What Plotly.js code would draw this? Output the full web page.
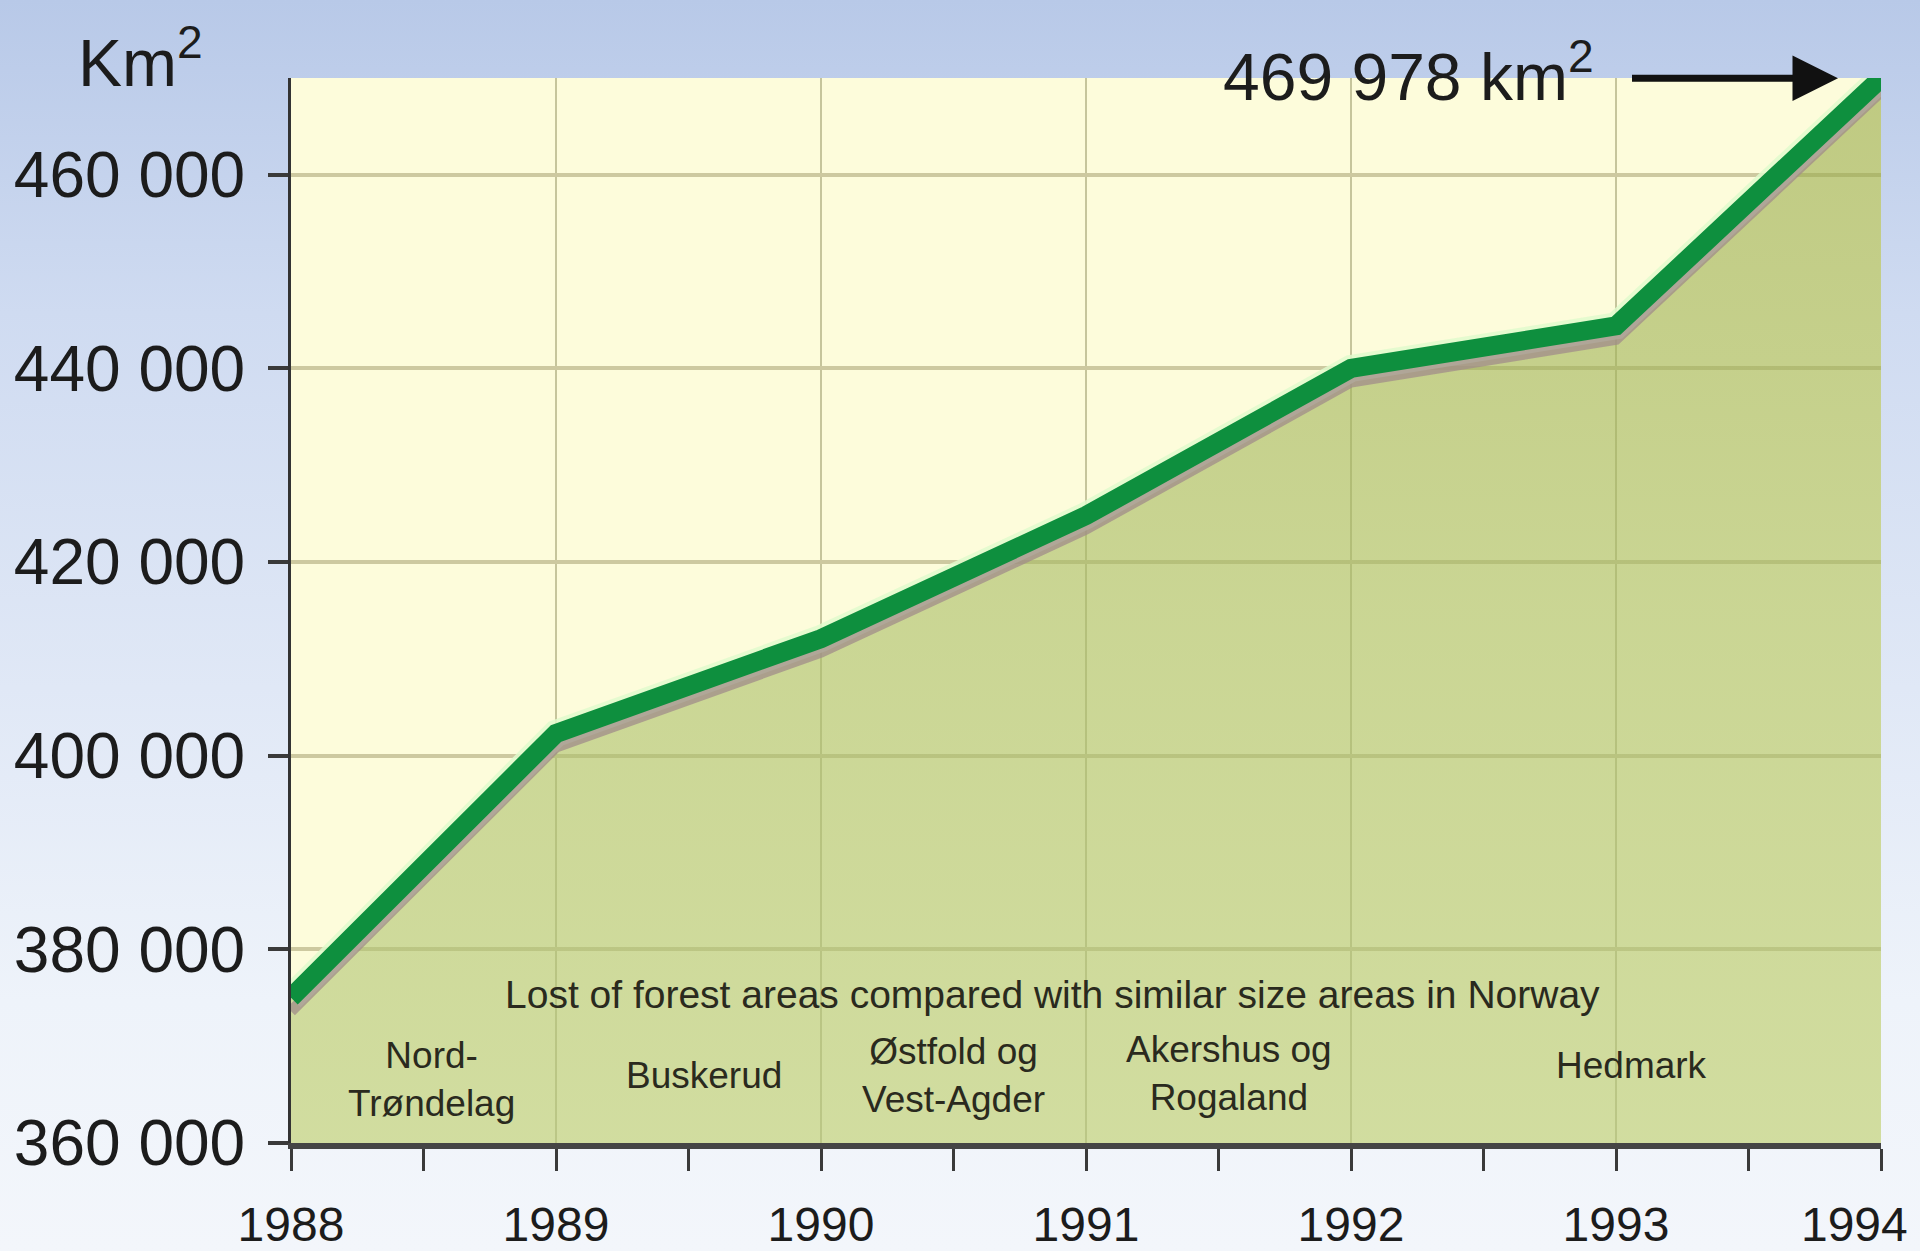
<!DOCTYPE html>
<html><head><meta charset="utf-8">
<script src="https://cdn.plot.ly/plotly-3.0.1.min.js"></script>
<style>
html,body{margin:0;padding:0;width:1920px;height:1251px;overflow:hidden;
background:linear-gradient(180deg,#b8c9e8 0%,#cfdbf1 25%,#e0e8f6 55%,#eef3fa 80%,#f3f6fb 100%);}
#chart{width:1920px;height:1251px;}
</style></head><body><div id="chart"></div>
<script>
// ---- data ----
const years = [1988, 1989, 1990, 1991, 1992, 1993, 1994];
const forestArea = [375000, 402300, 412100, 424800, 440000, 444400, 469978];
const yTickVals = [360000, 380000, 400000, 420000, 440000, 460000];
const yTickText = ['360 000', '380 000', '400 000', '420 000', '440 000', '460 000'];
const xTickVals = [1988, 1989, 1990, 1991, 1992, 1993, 1994];
const xTickText = ['1988', '1989', '1990', '1991', '1992', '1993', '1994'];
const unitLabel = 'Km<sup>2</sup>';
const endLabel = '469 978 km<sup>2</sup>';
const noteText = 'Lost of forest areas compared with similar size areas in Norway';
const regionNames = [['Nord-', 'Trøndelag'], ['Buskerud'], ['Østfold og', 'Vest-Agder'], ['Akershus og', 'Rogaland'], ['Hedmark']];

// ---- style / layout ----
const FONT = '"Liberation Sans Narrow", "Arial Narrow", "Liberation Sans", Arial, sans-serif';
const TXT = '#1c1c1c';
const LBL = '#2a2a1e';
const shadowOffset = 1400;
const regionPos = [
  {x: 1988.53, y: 366560},
  {x: 1989.56, y: 367023},
  {x: 1990.50, y: 367020},
  {x: 1991.54, y: 367180},
  {x: 1993.06, y: 368056}
];
// the last year label sits slightly left so it stays inside the page
const xTickDisplay = xTickText.map((t, i) => i === xTickText.length - 1 ? t + '&nbsp;&nbsp;&nbsp;&nbsp;' : t);

const last = years.length - 1;

const traces = [
  { // filled area
    x: years, y: forestArea, type: 'scatter', mode: 'lines',
    fill: 'tozeroy', line: {width: 0, color: 'rgba(0,0,0,0)'},
    fillcolor: 'rgba(170,188,100,0.6)',
    fillgradient: {type: 'vertical', start: 360000, stop: 470000,
      colorscale: [[0, 'rgba(180,200,120,0.6)'], [0.5, 'rgba(168,188,100,0.6)'], [1, 'rgba(150,168,70,0.6)']]},
    hoverinfo: 'skip', showlegend: false
  },
  { // light halo
    x: years, y: forestArea, type: 'scatter', mode: 'lines',
    line: {width: 27, color: 'rgba(225,250,205,0.85)'}, hoverinfo: 'skip', showlegend: false
  },
  { // shadow
    x: years, y: forestArea.map(v => v - shadowOffset), type: 'scatter', mode: 'lines',
    line: {width: 11, color: 'rgba(160,140,138,0.75)'}, hoverinfo: 'skip', showlegend: false
  },
  { // main line
    x: years, y: forestArea, type: 'scatter', mode: 'lines',
    line: {width: 19, color: '#0e8f3e'}, hoverinfo: 'skip', showlegend: false
  }
];

const annotations = [];
annotations.push({
  xref: 'paper', yref: 'paper', x: -0.135, y: 1.0, xanchor: 'left', yanchor: 'bottom', yshift: -24,
  text: unitLabel, showarrow: false, font: {family: FONT, size: 66, color: TXT}
});
annotations.push({
  x: years[last], y: forestArea[last], xanchor: 'right', yanchor: 'middle', xshift: -285, yshift: 6,
  text: endLabel, showarrow: false, font: {family: FONT, size: 66, color: TXT}
});
annotations.push({
  x: years[last], y: forestArea[last], ax: -252, ay: 0, text: ' ',
  showarrow: true, arrowhead: 2, arrowsize: 1.3, arrowwidth: 7, arrowcolor: '#111', standoff: 43
});
annotations.push({
  x: 1990.875, y: 375390, xanchor: 'center', yanchor: 'middle',
  text: noteText, showarrow: false, font: {family: FONT, size: 39, color: LBL}
});
regionNames.forEach((lines, i) => {
  annotations.push({
    x: regionPos[i].x, y: regionPos[i].y, xanchor: 'center', yanchor: 'middle',
    text: lines.join('<br>'), showarrow: false, font: {family: FONT, size: 37, color: LBL}
  });
});

const layout = {
  width: 1920, height: 1251,
  margin: {l: 291, r: 39, t: 78, b: 108, pad: 0},
  paper_bgcolor: 'rgba(0,0,0,0)',
  plot_bgcolor: '#fdfcdb',
  showlegend: false,
  xaxis: {
    range: [1988, 1994], fixedrange: true, automargin: false,
    tickvals: xTickVals, ticktext: xTickDisplay,
    ticks: 'outside', ticklen: 22, tickwidth: 3, tickcolor: '#3a3a3a',
    minor: {dtick: 0.5, tick0: 1988, ticks: 'outside', ticklen: 22, tickwidth: 3, tickcolor: '#3a3a3a', showgrid: false},
    showgrid: true, gridcolor: '#c6c59c', gridwidth: 2,
    showline: true, linecolor: '#454545', linewidth: 6,
    zeroline: false,
    tickfont: {family: FONT, size: 48, color: TXT},
    ticklabelstandoff: 12,
    ticklabeloverflow: 'allow'
  },
  yaxis: {
    range: [360000, 470000], fixedrange: true, automargin: false,
    tickvals: yTickVals, ticktext: yTickText,
    ticks: 'outside', ticklen: 20, tickwidth: 4, tickcolor: '#3a3a3a',
    showgrid: true, gridcolor: '#cdc9a0', gridwidth: 4,
    showline: true, linecolor: '#333', linewidth: 3,
    zeroline: false,
    tickfont: {family: FONT, size: 64, color: TXT},
    ticklabelstandoff: 10
  },
  annotations: annotations
};

Plotly.newPlot('chart', traces, layout, {displayModeBar: false, staticPlot: true});
</script></body></html>
